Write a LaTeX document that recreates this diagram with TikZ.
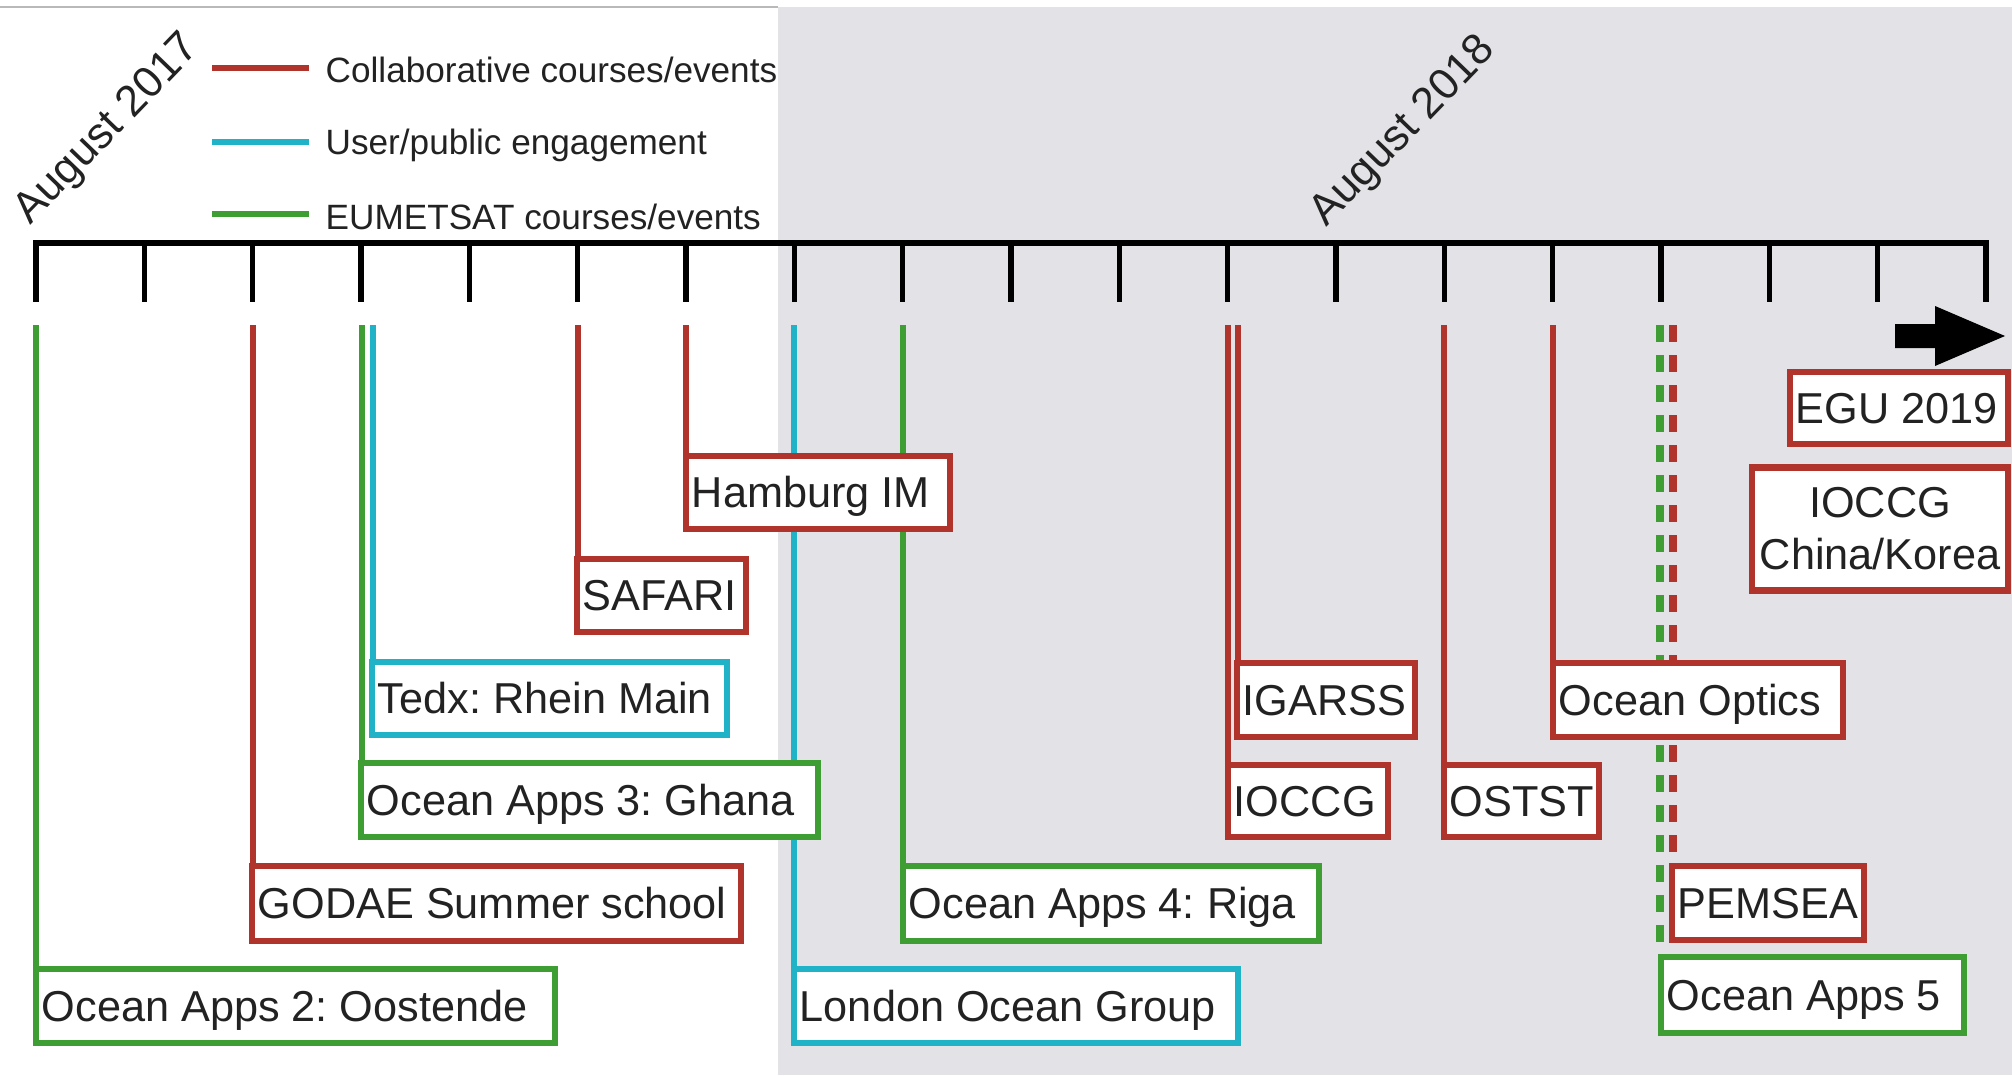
\documentclass[tikz,border=0pt]{standalone}
\usepackage{fontspec}
\setmainfont{Liberation Sans}
\frenchspacing
\definecolor{cred}{RGB}{176,52,44}
\definecolor{cgreen}{RGB}{62,158,52}
\definecolor{ccyan}{RGB}{32,178,198}
\definecolor{cbg}{RGB}{227,227,231}
\definecolor{ctext}{RGB}{34,34,34}
\newcommand\evtext[2]{\makebox[#1][l]{#2}}
\pgfdeclarelayer{bglayer}
\pgfdeclarelayer{connlayer}
\pgfsetlayers{bglayer,connlayer,main}
\begin{document}
\begin{tikzpicture}[x=0.01cm, y=-0.01cm,
  ev/.style={rectangle, fill=white, line width=1.8pt, inner xsep=0.06cm, inner ysep=0pt, text=ctext, font=\fontsize{12.3}{14.8}\selectfont},
  oneline/.style={text height=0.86em, text depth=0pt},
  conn/.style={line width=1.5pt},
  dconn/.style={line width=2.1pt, dash pattern=on 0.17cm off 0.13cm},
  tickline/.style={line width=1.5pt},
  legline/.style={line width=1.9pt},
  legtext/.style={anchor=west, text=ctext, font=\fontsize{10}{12}\selectfont, inner sep=0pt},
  datelabel/.style={rotate=46, text=ctext, font=\fontsize{12.4}{14}\selectfont, inner sep=0pt}
]
\useasboundingbox (0,0) rectangle (2012,1075);
\begin{pgfonlayer}{bglayer}
\fill[white] (0,0) rectangle (2012,1075);
\fill[cbg] (778,7) rectangle (2012,1075);
\draw[gray!55, line width=0.8pt] (0,7) -- (778,7);
\end{pgfonlayer}

% axis
\foreach \k in {1,...,17} \draw[tickline] ({36+108.33*\k},243) -- ({36+108.33*\k},302);
\draw[line width=1.9pt, line join=miter] (36,302) -- (36,243) -- (1986,243) -- (1986,302);

% arrow
\fill[black] (1895,324) -- (1935,324) -- (1935,306) -- (2005,336) -- (1935,366) -- (1935,348) -- (1895,348) -- cycle;

% connector start points
\coordinate (s0) at (36,325);
\coordinate (s2) at (253,325);
\coordinate (s3g) at (362,325);
\coordinate (s3c) at (373,325);
\coordinate (s5) at (578,325);
\coordinate (s6) at (686,325);
\coordinate (s7) at (794,325);
\coordinate (s8) at (903,325);
\coordinate (s11a) at (1228,325);
\coordinate (s11b) at (1238,325);
\coordinate (s13) at (1444,325);
\coordinate (s14) at (1553,325);
\coordinate (s15g) at (1660,325);
\coordinate (s15r) at (1673,325);

% boxes
\path
  (295.5,1006) node[ev, oneline, draw=cgreen, minimum height=0.74cm] (oa2) {\evtext{5.07cm}{Ocean Apps 2: Oostende}}
  (496.5,903.5) node[ev, oneline, draw=cred, minimum height=0.75cm] (godae) {\evtext{4.77cm}{GODAE Summer school}}
  (589.5,800) node[ev, oneline, draw=cgreen, minimum height=0.74cm] (ghana) {\evtext{4.45cm}{Ocean Apps 3: Ghana}}
  (549.5,698.5) node[ev, oneline, draw=ccyan, minimum height=0.73cm] (tedx) {\evtext{3.43cm}{Tedx: Rhein Main}}
  (661.5,595.5) node[ev, oneline, draw=cred, minimum height=0.73cm] (safari) {\evtext{1.57cm}{SAFARI}}
  (818,492.5) node[ev, oneline, draw=cred, minimum height=0.73cm] (hamburg) {\evtext{2.52cm}{Hamburg IM}}
  (1016,1006) node[ev, oneline, draw=ccyan, minimum height=0.74cm] (london) {\evtext{4.32cm}{London Ocean Group}}
  (1111,903.5) node[ev, oneline, draw=cgreen, minimum height=0.75cm] (riga) {\evtext{4.04cm}{Ocean Apps 4: Riga}}
  (1326,700) node[ev, oneline, draw=cred, minimum height=0.74cm] (igarss) {\evtext{1.66cm}{IGARSS}}
  (1308,801) node[ev, oneline, draw=cred, minimum height=0.72cm] (ioccg) {\evtext{1.48cm}{IOCCG}}
  (1521.5,801) node[ev, oneline, draw=cred, minimum height=0.72cm] (ostst) {\evtext{1.43cm}{OSTST}}
  (1698,700) node[ev, oneline, draw=cred, minimum height=0.74cm] (optics) {\evtext{2.78cm}{Ocean Optics}}
  (1768,903) node[ev, oneline, draw=cred, minimum height=0.74cm] (pemsea) {\evtext{1.80cm}{PEMSEA}}
  (1812.5,995) node[ev, oneline, draw=cgreen, minimum height=0.76cm] (oa5) {\evtext{2.91cm}{Ocean Apps 5}}
  (1899,408) node[ev, oneline, draw=cred, minimum height=0.72cm] (egu) {\evtext{2.06cm}{EGU 2019}}
  (1880,529) node[ev, draw=cred, minimum height=1.23cm, text width=2.44cm, align=center] (ioccgck) {IOCCG\\China/Korea};

% connectors (beneath boxes)
\begin{pgfonlayer}{connlayer}
\draw[conn, cgreen] (s0) -- (s0 |- oa2.north);
\draw[conn, cred] (s2) -- (s2 |- godae.north);
\draw[conn, cgreen] (s3g) -- (s3g |- ghana.north);
\draw[conn, ccyan] (s3c) -- (s3c |- tedx.north);
\draw[conn, cred] (s5) -- (s5 |- safari.north);
\draw[conn, cred] (s6) -- (s6 |- hamburg.north);
\draw[conn, ccyan] (s7) -- (s7 |- london.north);
\draw[conn, cgreen] (s8) -- (s8 |- riga.north);
\draw[conn, cred] (s11a) -- (s11a |- ioccg.north);
\draw[conn, cred] (s11b) -- (s11b |- igarss.north);
\draw[conn, cred] (s13) -- (s13 |- ostst.north);
\draw[conn, cred] (s14) -- (s14 |- optics.north);
\draw[dconn, cgreen] (s15g) -- (s15g |- oa5.north);
\draw[dconn, cred] (s15r) -- (s15r |- pemsea.north);
\end{pgfonlayer}

% legend
\draw[legline, cred] (212,68) -- (309,68);
\draw[legline, ccyan] (212,142) -- (309,142);
\draw[legline, cgreen] (212,214) -- (309,214);
\node[legtext] (lg1) at (325,70) {Collaborative courses/events};
\node[legtext] (lg2) at (325,145) {User/public engagement};
\node[legtext] (lg3) at (325,217) {EUMETSAT courses/events};

% date labels
\node[datelabel] (aug17) at (108,130) {August 2017};
\node[datelabel] (aug18) at (1404,132) {August 2018};
\end{tikzpicture}
\end{document}
